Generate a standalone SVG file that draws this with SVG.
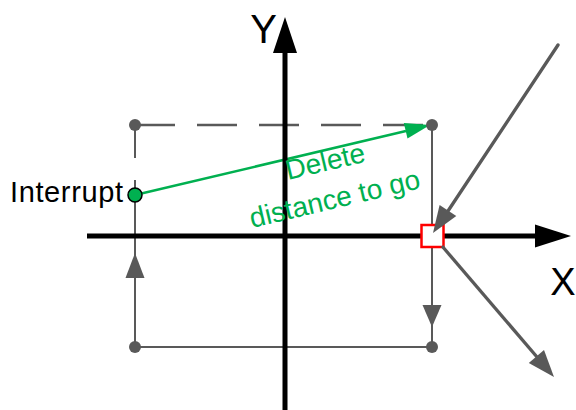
<svg xmlns="http://www.w3.org/2000/svg" width="576" height="410" viewBox="0 0 576 410">
<style>
.lbl{font-family:"Liberation Sans",Arial,sans-serif;fill:#000}
.grn{font-family:"Liberation Sans",Arial,sans-serif;fill:#00B050;font-size:28px}
.g{stroke:#595959;fill:none;stroke-width:2}
.gd{stroke:#595959;fill:none;stroke-width:2.5;stroke-dasharray:40 22}
.gh{fill:#595959;stroke:none}
.dot{fill:#595959}
.diag{stroke:#595959;stroke-width:3.3;fill:none;stroke-linecap:round}
</style>
<rect width="576" height="410" fill="#fff"/>
<g id="connectors">
  <path class="gd" d="M135,125 H432"/>
  <path class="gd" d="M135,125 V195" style="stroke-dasharray:33 22;stroke-width:2"/>
  <path class="g" d="M135,347 V195"/>
  <polygon class="gh" points="125.5,278 135,253 144.5,278"/>
  <path class="g" d="M135,347 H432"/>
  <path class="g" d="M432,125 V347"/>
  <polygon class="gh" points="422.5,305 432,327 441.5,305"/>
  <path d="M135,195 L406,131" stroke="#00B050" stroke-width="2.5" fill="none"/>
  <polygon points="407.5,138.6 430,125 403.8,123" fill="#00B050"/>
</g>
<g id="axes">
  <path d="M87,236 H540" stroke="#000" stroke-width="5"/>
  <polygon points="535,224.5 571,236 535,247.5" fill="#000"/>
  <path d="M285,410 V50" stroke="#000" stroke-width="5"/>
  <polygon points="273,53 285,17 297,53" fill="#000"/>
  <text class="lbl" x="563" y="295" font-size="38" text-anchor="middle">X</text>
  <text class="lbl" x="263.5" y="43" font-size="40" text-anchor="middle">Y</text>
</g>
<g id="corner-tl"><circle class="dot" cx="135" cy="125" r="6"/></g>
<g id="corner-tr"><circle class="dot" cx="432" cy="125" r="6"/></g>
<g id="corner-bl"><circle class="dot" cx="135" cy="347" r="6"/></g>
<g id="corner-br"><circle class="dot" cx="432" cy="347" r="6"/></g>
<g id="interrupt">
  <circle cx="135" cy="195" r="7" fill="#00B050" stroke="#000" stroke-width="1.5"/>
  <text class="lbl" x="10" y="202" font-size="29" textLength="113" lengthAdjust="spacing">Interrupt</text>
</g>
<g id="green-label">
  <text class="grn" transform="translate(288,180) rotate(-13.3)">Delete</text>
  <text class="grn" transform="translate(252,228) rotate(-13.3)">distance to go</text>
</g>
<g id="point">
  <rect x="421.5" y="225" width="22" height="22" fill="#fff" stroke="#FF0000" stroke-width="2.5"/>
</g>
<g id="path-connectors">
  <path class="diag" d="M558,45 L448,211"/>
  <polygon class="gh" points="456.3,216 433,233 439.6,205"/>
  <path class="diag" d="M442,246 L537,357" style="stroke-linecap:butt"/>
  <polygon class="gh" points="528.8,363 554,377 544,350"/>
</g>
</svg>
